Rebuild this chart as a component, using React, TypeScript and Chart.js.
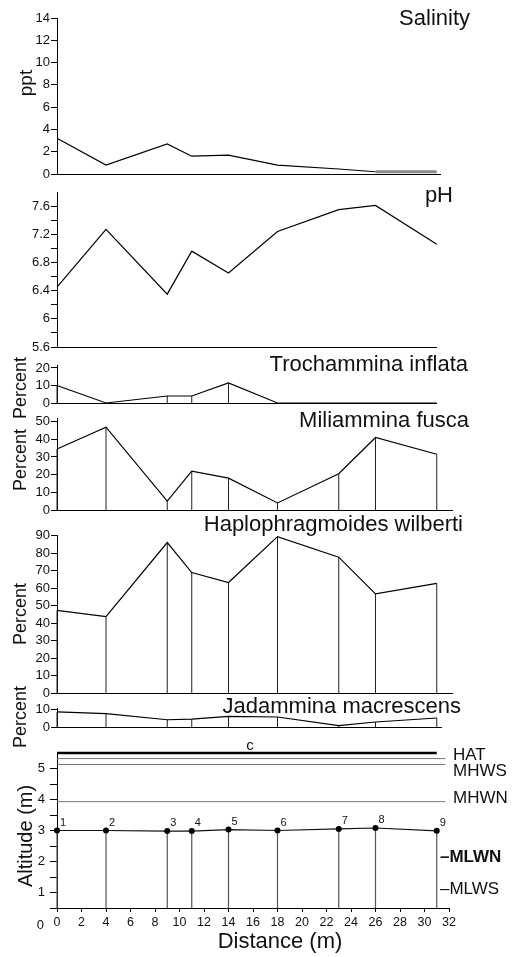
import React, { useEffect, useRef } from 'react';
import { Chart, registerables } from 'chart.js';

Chart.register(...registerables);

// ---------------- DATA ----------------
const stationLabels = ['1', '2', '3', '4', '5', '6', '7', '8', '9'];
const distances = [0, 4, 9, 11, 14, 18, 23, 26, 31];
const salinity = [3.2, 0.8, 2.7, 1.6, 1.7, 0.8, 0.45, 0.2, 0.2];
const pH = [6.45, 7.27, 6.35, 6.96, 6.65, 7.24, 7.55, 7.61, 7.06];
const trochammina = [10, 0, 4, 4, 11.5, 0, 0, 0, 0];
const miliammina = [34.5, 46.8, 5, 22, 18, 4, 20.5, 41, 31.5];
const haplophragmoides = [47.3, 43.8, 86.2, 69, 63.3, 89.6, 77.8, 56.8, 62.8];
const jadammina = [8.7, 7.7, 4.2, 4.6, 6.1, 5.8, 0.8, 2.9, 5.2];
const altitude = [3.0, 3.0, 2.98, 2.98, 3.03, 3.0, 3.05, 3.08, 2.99];

const tideNames = ['HAT', 'MHWS', 'MHWN', 'MLWN', 'MLWS'];
const tideLevels = [5.32, 5.13, 3.93, 2.15, 1.1];
const tideLineEnd = 31.7;
const transectTop = 5.5;

const salinityTicks = [0, 2, 4, 6, 8, 10, 12, 14];
const salinityTickLabels = ['0', '2', '4', '6', '8', '10', '12', '14'];
const pHTicks = [5.6, 5.8, 6.0, 6.2, 6.4, 6.6, 6.8, 7.0, 7.2, 7.4, 7.6];
const pHTickLabels = ['5.6', '', '6', '', '6.4', '', '6.8', '', '7.2', '', '7.6'];
const trochTicks = [0, 10, 20];
const trochTickLabels = ['0', '10', '20'];
const miliTicks = [0, 10, 20, 30, 40, 50];
const miliTickLabels = ['0', '10', '20', '30', '40', '50'];
const haploTicks = [0, 10, 20, 30, 40, 50, 60, 70, 80, 90];
const haploTickLabels = ['0', '10', '20', '30', '40', '50', '60', '70', '80', '90'];
const jadTicks = [0, 10];
const jadTickLabels = ['0', '10'];
const altitudeTicks = [0.5, 1, 1.5, 2, 2.5, 3, 3.5, 4, 4.5, 5];
const altitudeTickLabels = ['', '1', '', '2', '', '3', '', '4', '', '5'];
const distanceTicks = [0, 2, 4, 6, 8, 10, 12, 14, 16, 18, 20, 22, 24, 26, 28, 30, 32];
const distanceTickLabels = ['0', '2', '4', '6', '8', '10', '12', '14', '16', '18', '20', '22', '24', '26', '28', '30', '32'];

// ---------------- LAYOUT ----------------
const W = 515;
const H = 957;
const AXIS_LEFT = 57;
const PX_PER_M = 12.25;
const FONT = '"Liberation Sans", Arial, Helvetica, sans-serif';

Chart.defaults.font.family = FONT;
Chart.defaults.color = '#000';

type TextItem = {
  text: string;
  x: number;
  y: number;
  size: number;
  align?: CanvasTextAlign;
  baseline?: CanvasTextBaseline;
  rotate?: boolean;
  bold?: boolean;
};

function drawText(ctx: CanvasRenderingContext2D, t: TextItem) {
  ctx.save();
  ctx.fillStyle = '#111';
  ctx.font = `${t.bold ? 'bold ' : ''}${t.size}px ${FONT}`;
  ctx.textAlign = t.align || 'left';
  ctx.textBaseline = t.baseline || 'alphabetic';
  ctx.translate(t.x, t.y);
  if (t.rotate) ctx.rotate(-Math.PI / 2);
  ctx.fillText(t.text, 0, 0);
  ctx.restore();
}

type PanelDef = {
  top: number;
  bottom: number;
  xMax: number;
  yMin: number;
  yMax: number;
  ticks: number[];
  tickLabels: string[];
  values: number[];
  drops: boolean;
  texts: TextItem[];
  grayTailFrom?: number;
};

function dropData(values: number[], base: number) {
  return distances.flatMap((d, i) => [
    { x: d, y: base },
    { x: d, y: values[i] },
    { x: d, y: null as any },
  ]);
}

function yScale(p: PanelDef, tickLength: number, pad: number, fontSize: number) {
  return {
    type: 'linear',
    min: p.yMin,
    max: p.yMax,
    afterFit: (s: any) => {
      s.width = AXIS_LEFT;
    },
    afterBuildTicks: (s: any) => {
      s.ticks = p.ticks.map((v) => ({ value: v }));
    },
    ticks: {
      autoSkip: false,
      padding: pad,
      font: { size: fontSize },
      color: '#111',
      callback: (_v: any, i: number) => p.tickLabels[i],
    },
    grid: {
      display: true,
      drawOnChartArea: false,
      drawTicks: true,
      tickLength,
      color: '#000',
      lineWidth: 1,
    },
    border: { display: true, color: '#000', width: 1 },
  };
}

function panelConfig(p: PanelDef): any {
  const datasets: any[] = [
    {
      data: distances.map((d, i) => ({ x: d, y: p.values[i] })),
      borderColor: '#000',
      borderWidth: 1.2,
      pointRadius: 0,
      tension: 0,
      clip: false,
      segment:
        p.grayTailFrom !== undefined
          ? {
              borderColor: (c: any) => (c.p0DataIndex >= p.grayTailFrom! ? '#8a8a8a' : '#000'),
              borderWidth: (c: any) => (c.p0DataIndex >= p.grayTailFrom! ? 3 : 1.2),
            }
          : undefined,
    },
  ];
  if (p.drops) {
    datasets.push({
      data: dropData(p.values, p.yMin),
      borderColor: '#222',
      borderWidth: 1,
      pointRadius: 0,
      spanGaps: false,
      clip: false,
    });
  }
  const textPlugin = {
    id: 'panelText',
    afterDraw(chart: any) {
      p.texts.forEach((t) => drawText(chart.ctx, t));
    },
  };
  return {
    type: 'line',
    data: { datasets },
    plugins: [textPlugin],
    options: {
      animation: false,
      responsive: false,
      events: [],
      layout: {
        autoPadding: false,
        padding: {
          left: 0,
          top: p.top,
          bottom: H - p.bottom,
          right: W - (AXIS_LEFT + PX_PER_M * p.xMax),
        },
      },
      plugins: { legend: { display: false }, tooltip: { enabled: false } },
      scales: {
        x: {
          type: 'linear',
          min: 0,
          max: p.xMax,
          afterFit: (s: any) => {
            s.height = 0;
          },
          ticks: { display: false },
          grid: { display: false },
          border: { display: true, color: '#000', width: 1 },
        },
        y: yScale(p, 6, 1, 13),
      },
    },
  };
}

const TITLE = 22;
const PCT = 18;

const panels: PanelDef[] = [
  {
    top: 18, bottom: 174, xMax: 31.3, yMin: 0, yMax: 14,
    ticks: salinityTicks, tickLabels: salinityTickLabels, values: salinity, drops: false,
    grayTailFrom: 7,
    texts: [
      { text: 'Salinity', x: 470, y: 25, size: TITLE, align: 'right' },
      { text: 'ppt', x: 27, y: 83, size: 19, align: 'center', baseline: 'middle', rotate: true },
    ],
  },
  {
    top: 192, bottom: 347, xMax: 31, yMin: 5.6, yMax: 7.8,
    ticks: pHTicks, tickLabels: pHTickLabels, values: pH, drops: false,
    texts: [{ text: 'pH', x: 453, y: 202, size: TITLE, align: 'right' }],
  },
  {
    top: 365, bottom: 403, xMax: 31, yMin: 0, yMax: 21.7,
    ticks: trochTicks, tickLabels: trochTickLabels, values: trochammina, drops: true,
    texts: [
      { text: 'Trochammina inflata', x: 468, y: 371, size: TITLE, align: 'right' },
      { text: 'Percent', x: 21, y: 388, size: PCT, align: 'center', baseline: 'middle', rotate: true },
    ],
  },
  {
    top: 418, bottom: 510, xMax: 32.3, yMin: 0, yMax: 52,
    ticks: miliTicks, tickLabels: miliTickLabels, values: miliammina, drops: true,
    texts: [
      { text: 'Miliammina fusca', x: 469, y: 427, size: TITLE, align: 'right' },
      { text: 'Percent', x: 21, y: 460, size: PCT, align: 'center', baseline: 'middle', rotate: true },
    ],
  },
  {
    top: 535, bottom: 693, xMax: 32.3, yMin: 0, yMax: 90.5,
    ticks: haploTicks, tickLabels: haploTickLabels, values: haplophragmoides, drops: true,
    texts: [
      { text: 'Haplophragmoides wilberti', x: 463, y: 531, size: TITLE, align: 'right' },
      { text: 'Percent', x: 21, y: 614, size: PCT, align: 'center', baseline: 'middle', rotate: true },
    ],
  },
  {
    top: 708, bottom: 727, xMax: 31.4, yMin: 0, yMax: 11,
    ticks: jadTicks, tickLabels: jadTickLabels, values: jadammina, drops: true,
    texts: [
      { text: 'Jadammina macrescens', x: 461, y: 713, size: TITLE, align: 'right' },
      { text: 'Percent', x: 21, y: 717, size: PCT, align: 'center', baseline: 'middle', rotate: true },
    ],
  },
];

const altPanel: PanelDef = {
  top: 753, bottom: 908, xMax: 32, yMin: 0.5, yMax: 5.5,
  ticks: altitudeTicks, tickLabels: altitudeTickLabels, values: altitude, drops: true,
  texts: [
    { text: 'c', x: 250, y: 750, size: 15, align: 'center' },
    { text: 'Altitude (m)', x: 26, y: 836, size: 20, align: 'center', baseline: 'middle', rotate: true },
    { text: 'Distance (m)', x: 280, y: 948, size: 22, align: 'center' },
  ],
};

function altitudeConfig(): any {
  const p = altPanel;
  const datasets: any[] = [
    {
      data: distances.map((d, i) => ({ x: d, y: altitude[i] })),
      borderColor: '#111',
      borderWidth: 1.2,
      pointRadius: 3,
      pointBackgroundColor: '#000',
      pointBorderWidth: 0,
      clip: false,
    },
    {
      data: dropData(altitude, p.yMin),
      borderColor: '#555',
      borderWidth: 1.2,
      pointRadius: 0,
      spanGaps: false,
      clip: false,
    },
    {
      data: [
        { x: 0, y: transectTop },
        { x: distances[distances.length - 1], y: transectTop },
      ],
      borderColor: '#000',
      borderWidth: 2.6,
      pointRadius: 0,
      clip: false,
    },
    ...tideLevels.slice(0, 3).map((lvl) => ({
      data: [
        { x: 0, y: lvl },
        { x: tideLineEnd, y: lvl },
      ],
      borderColor: '#777',
      borderWidth: 1,
      pointRadius: 0,
      clip: false,
    })),
  ];
  const tideOffsets = [-3, 7, -3, 0, 0];
  const textPlugin = {
    id: 'altText',
    afterDraw(chart: any) {
      const ctx = chart.ctx;
      const xs = chart.scales.x;
      const ys = chart.scales.y;
      p.texts.forEach((t) => drawText(ctx, t));
      // "0" label at the origin of the altitude axis
      drawText(ctx, { text: '0', x: 44, y: ys.getPixelForValue(0) + 2, size: 13, align: 'right', baseline: 'middle' });
      // tide labels
      tideNames.forEach((name, i) => {
        const y = ys.getPixelForValue(tideLevels[i]) + tideOffsets[i];
        if (i < 3) {
          drawText(ctx, { text: name, x: 453, y, size: 17, align: 'left', baseline: 'middle' });
        } else {
          drawText(ctx, { text: '\u2013' + name, x: 440, y, size: 17, align: 'left', baseline: 'middle', bold: i === 3 });
        }
      });
      // station numbers
      stationLabels.forEach((lab, i) => {
        drawText(ctx, {
          text: lab,
          x: xs.getPixelForValue(distances[i]) + 3,
          y: ys.getPixelForValue(altitude[i]) - 8,
          size: 11,
          align: 'left',
          baseline: 'middle',
        });
      });
    },
  };
  return {
    type: 'line',
    data: { datasets },
    plugins: [textPlugin],
    options: {
      animation: false,
      responsive: false,
      events: [],
      layout: {
        autoPadding: false,
        padding: {
          left: 0,
          top: p.top,
          bottom: 0,
          right: W - (AXIS_LEFT + PX_PER_M * p.xMax),
        },
      },
      plugins: { legend: { display: false }, tooltip: { enabled: false } },
      scales: {
        x: {
          type: 'linear',
          min: 0,
          max: 32,
          afterFit: (s: any) => {
            s.height = H - p.bottom;
          },
          afterBuildTicks: (s: any) => {
            s.ticks = distanceTicks.map((v) => ({ value: v }));
          },
          ticks: {
            autoSkip: false,
            maxRotation: 0,
            padding: 3,
            font: { size: 12.5 },
            color: '#111',
            callback: (_v: any, i: number) => distanceTickLabels[i],
          },
          grid: {
            display: true,
            drawOnChartArea: false,
            drawTicks: true,
            tickLength: 4,
            color: '#000',
          },
          border: { display: true, color: '#000', width: 1 },
        },
        y: yScale(p, 7, 5, 13),
      },
    },
  };
}

function ChartCanvas({ build }: { build: () => any }) {
  const ref = useRef<HTMLCanvasElement>(null);
  useEffect(() => {
    const chart = new Chart(ref.current as HTMLCanvasElement, build());
    return () => chart.destroy();
  }, []);
  return (
    <canvas
      ref={ref}
      width={W}
      height={H}
      style={{ position: 'absolute', left: 0, top: 0, width: W, height: H, display: 'block' }}
    />
  );
}

export default function App() {
  return (
    <div style={{ position: 'absolute', left: 0, top: 0, width: W, height: H, background: '#fff', overflow: 'hidden' }}>
      {panels.map((p, i) => (
        <ChartCanvas key={i} build={() => panelConfig(p)} />
      ))}
      <ChartCanvas build={altitudeConfig} />
    </div>
  );
}
